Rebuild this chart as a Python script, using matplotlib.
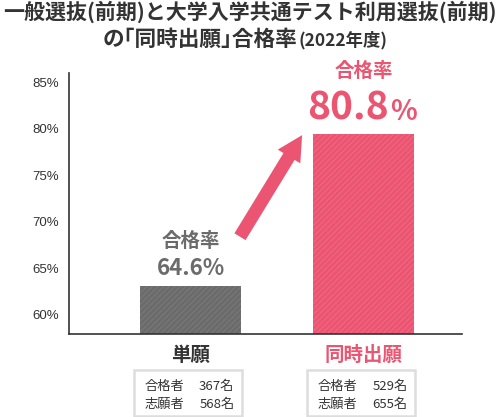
import matplotlib
matplotlib.use("Agg")
import matplotlib.pyplot as plt
from matplotlib.patches import Rectangle

plt.rcParams['font.family'] = ['Noto Sans CJK JP', 'DejaVu Sans']
plt.rcParams['hatch.linewidth'] = 0.6

# ---- data ----
categories = ["単願", "同時出願"]
rates = [64.6, 80.8]              # 合格率 labels (%)
bar_heights = [63.1, 79.4]        # bar tops as drawn in the picture (axis %)
passed = [367, 529]               # 合格者
applicants = [568, 655]           # 志願者
yticks = [60, 65, 70, 75, 80, 85]
ytick_labels = ["60%", "65%", "70%", "75%", "80%", "85%"]

GREY = "#6b6b6b"
GREY_H = "#7c7c7c"
PINK = "#eb5571"
PINK_H = "#f06d86"
DARK = "#333333"
NUMFONT = ['Liberation Sans', 'Noto Sans CJK JP']

W, H = 499, 417
fig = plt.figure(figsize=(W / 100, H / 100), dpi=100)

def fx(px):
    return px / W

def fy(py):
    return 1 - py / H

ax = fig.add_axes([fx(69), fy(334), 393 / W, 261 / H])
ax.set_ylim(57.96, 85.97)
ax.set_xlim(-0.702, 1.569)

x = list(range(len(categories)))
colors = [GREY, PINK]
hcolors = [GREY_H, PINK_H]
for xi, h, c, hc in zip(x, bar_heights, colors, hcolors):
    ax.bar(xi, h, width=0.584, color=c, edgecolor=hc, linewidth=0,
           hatch="//////", zorder=2)

ax.set_yticks(yticks)
ax.set_yticklabels(ytick_labels, fontsize=9.5, color=DARK, family=NUMFONT)
ax.tick_params(axis='y', length=0, pad=7)
ax.set_xticks([])
for s in ["top", "right"]:
    ax.spines[s].set_visible(False)
for s in ["left", "bottom"]:
    ax.spines[s].set_color(DARK)
    ax.spines[s].set_linewidth(1.2)

# arrow
ax.annotate("", xy=(0.645, 79.3), xytext=(0.286, 68.4), xycoords='data',
            arrowprops=dict(arrowstyle="simple,head_length=0.9,head_width=0.95,tail_width=0.47",
                            color=PINK, lw=0, shrinkA=0, shrinkB=0, mutation_scale=20),
            zorder=3)

# titles
fig.text(fx(249.5), fy(12), "一般選抜(前期)と大学入学共通テスト利用選抜(前期)",
         ha="center", va="center", fontsize=15.1, fontweight="bold", color=DARK)
fig.text(fx(297), fy(39), "の｢同時出願｣合格率", ha="right", va="center",
         fontsize=15.6, fontweight="bold", color=DARK)
fig.text(fx(299), fy(40), "(2022年度)", ha="left", va="center",
         fontsize=12.5, fontweight="bold", color=DARK)

# value labels
centers_px = [190.5, 363.5]
fig.text(fx(centers_px[0]), fy(241.5), "合格率", ha="center", va="center",
         fontsize=14, fontweight="bold", color=GREY)
fig.text(fx(centers_px[0]), fy(275), f"{rates[0]:.1f}%", ha="center", va="baseline",
         fontsize=16, fontweight="bold", color=GREY)

fig.text(fx(centers_px[1]), fy(71), "合格率", ha="center", va="center",
         fontsize=14, fontweight="bold", color=PINK)
fig.text(fx(389), fy(120), f"{rates[1]:.1f}", ha="right", va="baseline",
         fontsize=28, fontweight="bold", color=PINK)
fig.text(fx(390), fy(120), "%", ha="left", va="baseline",
         fontsize=20, fontweight="bold", color=PINK)

# category labels and boxes
cat_colors = [DARK, PINK]
for cx, cat, cc, p, a in zip(centers_px, categories, cat_colors, passed, applicants):
    fig.text(fx(cx), fy(355), cat, ha="center", va="center", fontsize=14,
             fontweight="bold", color=cc)
    fig.patches.append(Rectangle((fx(cx - 56.5), fy(415.5)), 108 / W, 46 / H,
                                 transform=fig.transFigure, fill=False,
                                 edgecolor="#dddddd", linewidth=1.8))
    fig.text(fx(cx - 45.5), fy(386), "合格者", ha="left", va="center",
             fontsize=9.5, color=DARK)
    fig.text(fx(cx + 44), fy(386), f"{p}名", ha="right", va="center",
             fontsize=9.5, color=DARK)
    fig.text(fx(cx - 45.5), fy(404), "志願者", ha="left", va="center",
             fontsize=9.5, color=DARK)
    fig.text(fx(cx + 44), fy(404), f"{a}名", ha="right", va="center",
             fontsize=9.5, color=DARK)

fig.savefig("out.png", dpi=100)
